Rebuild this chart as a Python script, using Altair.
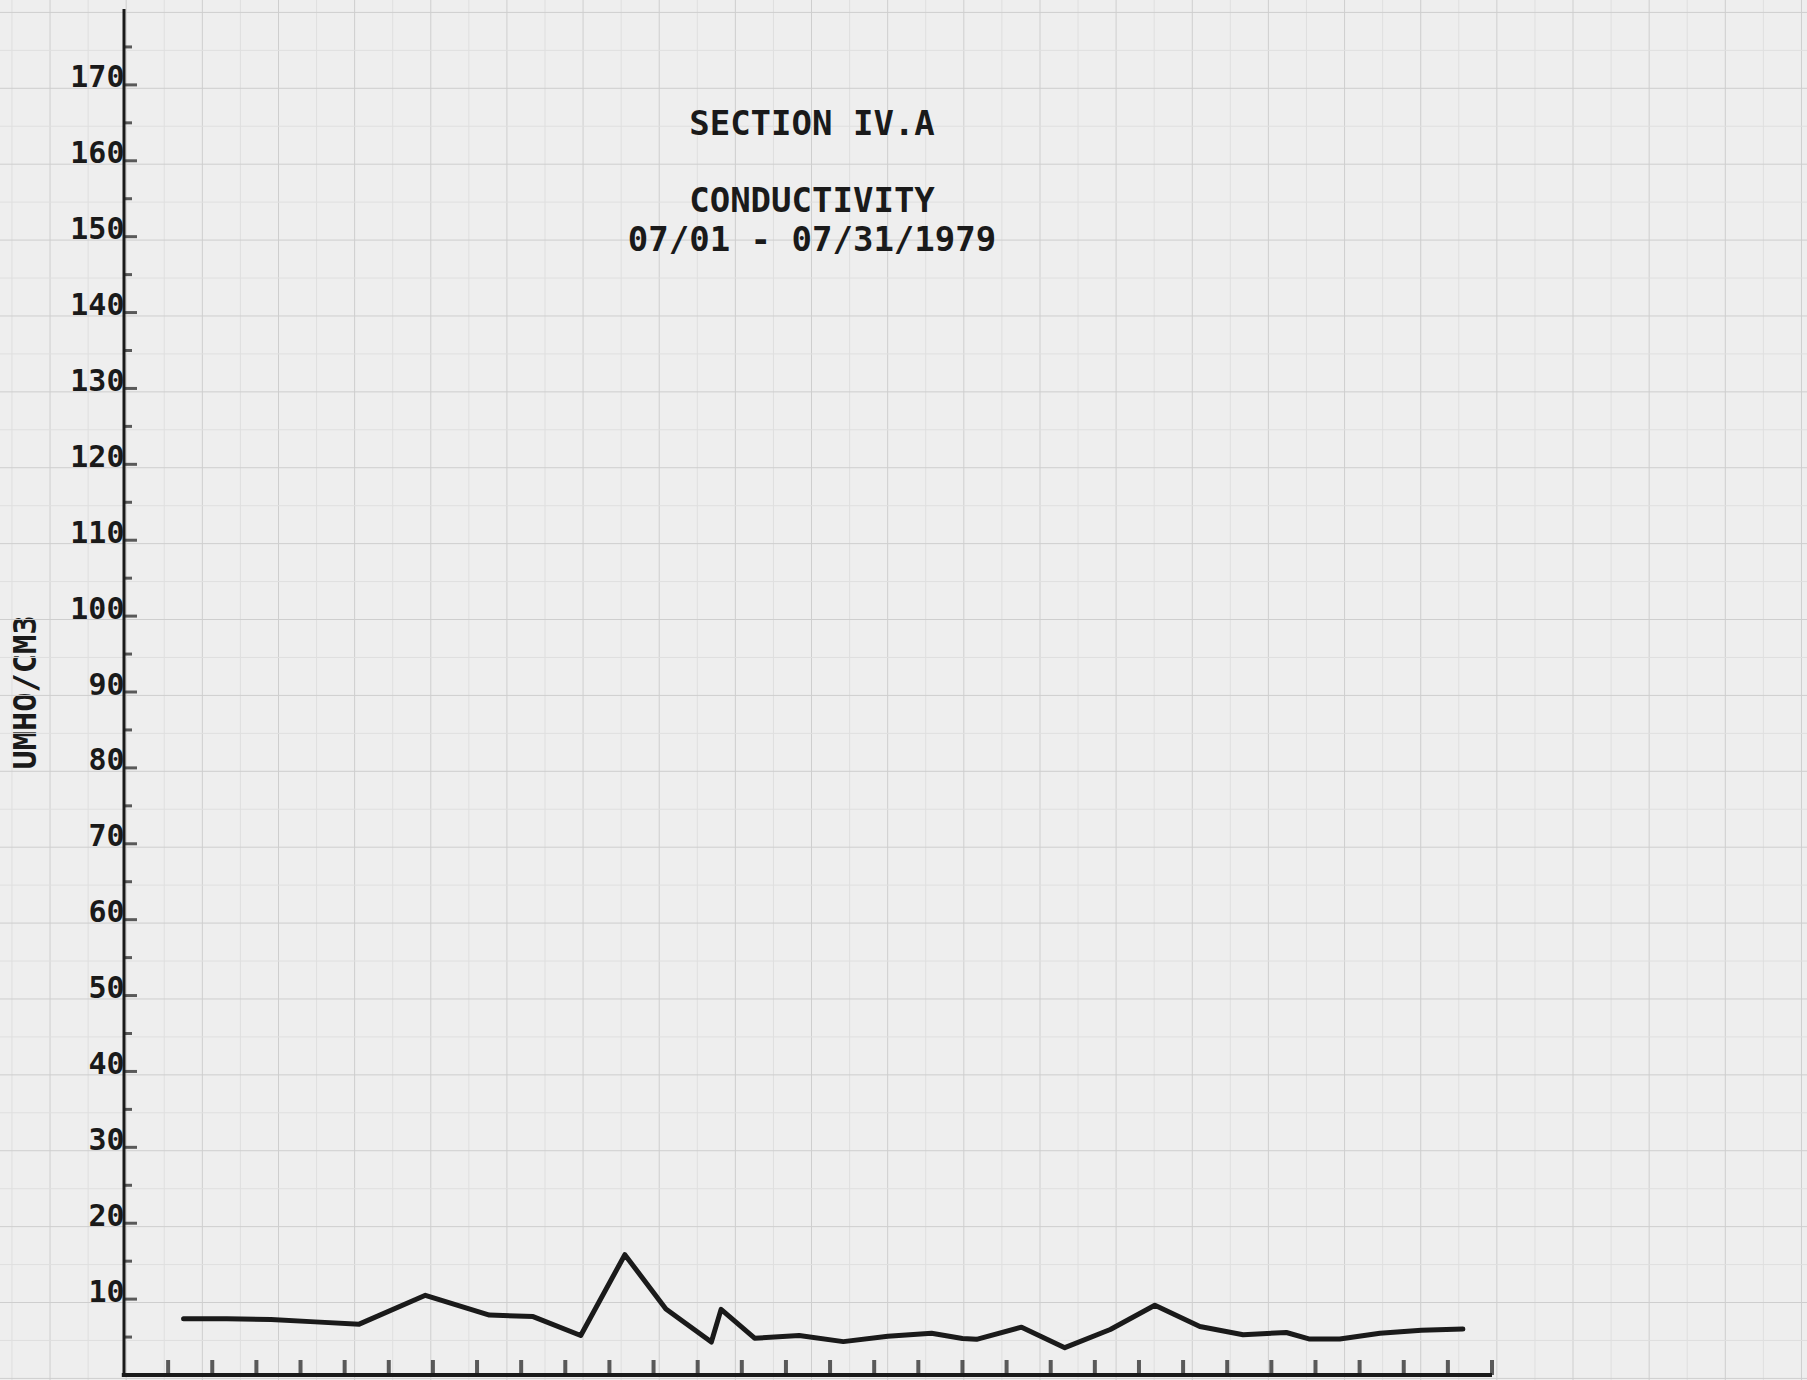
import altair as alt
import numpy as np
import pandas as pd

# Conductivity readings, July 1979 (sample time as fractional day of month, umho/cm3)
sample_day = [1.35, 2.33, 3.33, 4.33, 5.33, 6.83, 8.28, 9.27, 10.35, 11.35,
              12.28, 13.31, 13.53, 14.29, 15.30, 16.30, 17.31, 18.30, 19.00,
              19.32, 20.34, 21.32, 22.35, 23.36, 24.38, 25.36, 26.34, 26.85,
              27.55, 28.46, 29.40, 30.34]
conductivity = [7.4, 7.4, 7.3, 7.0, 6.7, 10.5, 7.9, 7.7, 5.2, 15.85,
                8.7, 4.35, 8.65, 4.85, 5.2, 4.4, 5.1, 5.5, 4.8,
                4.7, 6.3, 3.6, 6.0, 9.2, 6.4, 5.3, 5.6, 4.75,
                4.75, 5.5, 5.9, 6.05]

# Axis ticks
x_tick_days = list(range(1, 32))
y_major = list(range(10, 171, 10))
y_minor = list(range(5, 180, 10))

# Graph-paper ruling (in data units)
paper_v = np.round(-2.539 + 0.8628 * np.arange(48), 3)
paper_h = np.round(-0.45 + 5 * np.arange(37), 3)

heading = "SECTION IV.A"
subheading = ["CONDUCTIVITY", "07/01 - 07/31/1979"]
y_title = "UMHO/CM3"

FONT = "DejaVu Sans Mono"
INK = "#1a1a1a"

xs = alt.Scale(domain=[0, 31], nice=False, zero=False)
ys = alt.Scale(domain=[0, 180], nice=False, zero=False)

y_axis = alt.Axis(
    values=y_major,
    domain=False,
    ticks=False,
    grid=False,
    labelFont=FONT,
    labelFontSize=30,
    labelFontWeight="bold",
    labelColor=INK,
    labelAlign="right",
    labelBaseline="alphabetic",
    labelPadding=0,
    labelOffset=2,
    labelOverlap=False,
    labelFlush=False,
    title=y_title,
    titleFont=FONT,
    titleFontSize=32,
    titleFontWeight="bold",
    titleColor=INK,
    titleAngle=270,
    titleAlign="center",
    titleBaseline="middle",
    titleX=-99,
    titleY=683,
)

data = pd.DataFrame({"day": sample_day, "value": conductivity})


def X(f):
    return alt.X(f, type="quantitative", scale=xs, axis=None)


def Y(f):
    return alt.Y(f, type="quantitative", scale=ys, axis=y_axis)


def vrules(xvals, color):
    df = pd.DataFrame({"gx": xvals, "lo": -1.0, "hi": 182.0})
    return alt.Chart(df).mark_rule(strokeWidth=1, color=color).encode(
        x=X("gx"), y=Y("lo"), y2="hi"
    )


def hrules(yvals, color):
    df = pd.DataFrame({"gy": yvals, "lo": -3.0, "hi": 38.5})
    return alt.Chart(df).mark_rule(strokeWidth=1, color=color).encode(
        y=Y("gy"), x=X("lo"), x2="hi"
    )


y_axis_line = alt.Chart(pd.DataFrame({"x": [0.0], "y": [0.0], "y2": [180.0]})).mark_rule(
    strokeWidth=3, color=INK
).encode(x=X("x"), y=Y("y"), y2="y2")
x_axis_line = alt.Chart(pd.DataFrame({"x": [-0.05], "x2": [31.0], "y": [0.0]})).mark_rule(
    strokeWidth=4, color=INK
).encode(x=X("x"), x2="x2", y=Y("y"))

y_major_ticks = alt.Chart(pd.DataFrame({"v": y_major, "z": 0.0})).mark_tick(
    orient="horizontal", size=13, thickness=3, xOffset=6.5, color=INK
).encode(y=Y("v"), x=X("z"))
y_minor_ticks = alt.Chart(pd.DataFrame({"v": y_minor, "z": 0.0})).mark_tick(
    orient="horizontal", size=8, thickness=3, xOffset=4, color=INK
).encode(y=Y("v"), x=X("z"))
x_ticks = alt.Chart(pd.DataFrame({"d": x_tick_days, "z": 0.0})).mark_tick(
    orient="vertical", size=15, thickness=4, yOffset=-7.5, color=INK
).encode(x=X("d"), y=Y("z"))

line = alt.Chart(data).mark_line(
    color=INK, strokeWidth=5, strokeJoin="round", strokeCap="round"
).encode(x=X("day"), y=Y("value"))

chart = alt.layer(
    vrules(paper_v[0::2], "#dfdfdf"), vrules(paper_v[1::2], "#cecece"),
    hrules(paper_h[1::2], "#dfdfdf"), hrules(paper_h[0::2], "#cecece"),
    y_axis_line, x_axis_line, y_major_ticks, y_minor_ticks, x_ticks, line
).properties(
    width=1368,
    height=1366,
    padding={"left": 124, "top": 9, "right": 315, "bottom": 5},
    autosize=alt.AutoSizeParams(type="none"),
    background="#eeeeee",
    title=alt.TitleParams(
        text=heading,
        subtitle=subheading,
        font=FONT,
        fontSize=34,
        fontWeight="bold",
        color=INK,
        subtitleFont=FONT,
        subtitleFontSize=34,
        subtitleFontWeight="bold",
        subtitleColor=INK,
        subtitleLineHeight=39,
        subtitlePadding=43,
        anchor="middle",
        baseline="top",
        offset=-102,
        dx=4,
        dy=163,
    ),
).configure_view(strokeWidth=0)

chart.save("out.html", embed_options={"renderer": "svg", "actions": False})
